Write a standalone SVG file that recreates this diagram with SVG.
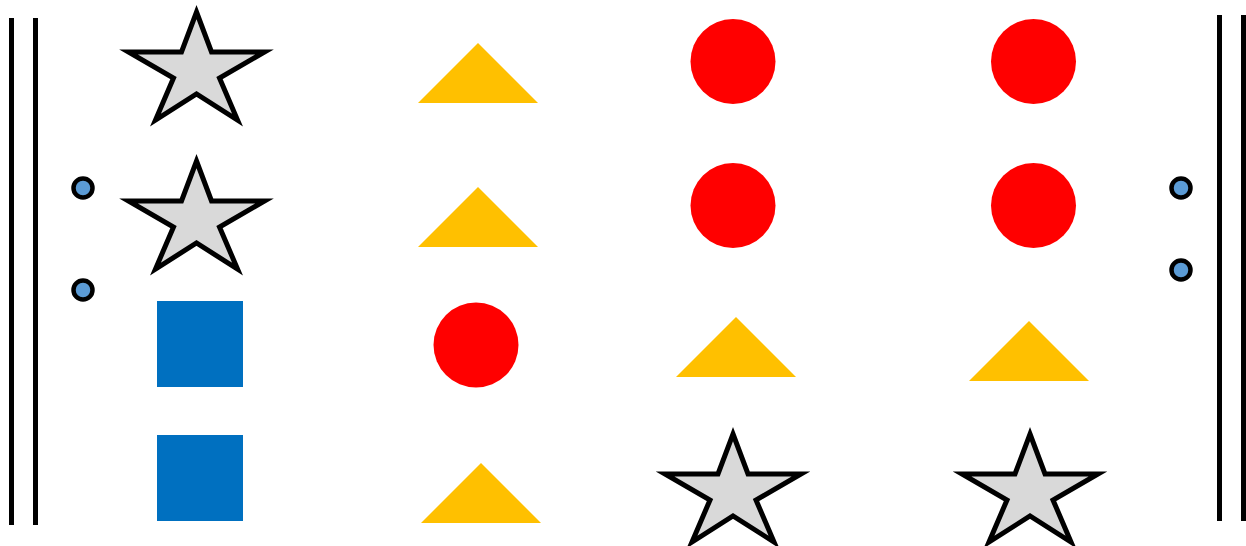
<svg xmlns="http://www.w3.org/2000/svg" width="1246" height="546" viewBox="0 0 1246 546">
<style>
.bar{stroke:#000;stroke-width:5;fill:none}
.dot{fill:#5B9BD5;stroke:#000;stroke-width:4.5}
.star{fill:#D9D9D9;stroke:#000;stroke-width:5;stroke-miterlimit:10}
.tri{fill:#FFC000}
.circ{fill:#FF0000}
.sq{fill:#0070C0}
</style>
<defs>
<path id="star" d="M0,0 L15,40 L68,40 L23,66 L41,108 L0,82 L-41,108 L-23,66 L-68,40 L-15,40 Z"/>
<path id="tri" d="M0,0 L60,60 L-60,60 Z"/>
</defs>
<rect width="1246" height="546" fill="#fff"/>
<g id="bars">
<line class="bar" x1="11.5" y1="18" x2="11.5" y2="525"/>
<line class="bar" x1="35.5" y1="18" x2="35.5" y2="525"/>
<line class="bar" x1="1219.5" y1="15" x2="1219.5" y2="521"/>
<line class="bar" x1="1243.5" y1="15" x2="1243.5" y2="521"/>
</g>
<g id="dots">
<circle class="dot" cx="83" cy="188" r="9.5"/>
<circle class="dot" cx="83" cy="290" r="9.5"/>
<circle class="dot" cx="1181" cy="188" r="9.5"/>
<circle class="dot" cx="1181" cy="270" r="9.5"/>
</g>
<g id="stars">
<use href="#star" class="star" x="196.5" y="12"/>
<use href="#star" class="star" x="196.5" y="161"/>
<use href="#star" class="star" x="733" y="434"/>
<use href="#star" class="star" x="1030" y="434"/>
</g>
<g id="triangles">
<use href="#tri" class="tri" x="478" y="43"/>
<use href="#tri" class="tri" x="478" y="187"/>
<use href="#tri" class="tri" x="736" y="317"/>
<use href="#tri" class="tri" x="1029" y="321"/>
<use href="#tri" class="tri" x="481" y="463"/>
</g>
<g id="circles">
<circle class="circ" cx="733" cy="61.5" r="42.5"/>
<circle class="circ" cx="733" cy="205.5" r="42.5"/>
<circle class="circ" cx="1033.5" cy="61.5" r="42.5"/>
<circle class="circ" cx="1033.5" cy="205.5" r="42.5"/>
<circle class="circ" cx="476" cy="345" r="42.5"/>
</g>
<g id="squares">
<rect class="sq" x="157" y="301" width="86" height="86"/>
<rect class="sq" x="157" y="435" width="86" height="86"/>
</g>
</svg>
